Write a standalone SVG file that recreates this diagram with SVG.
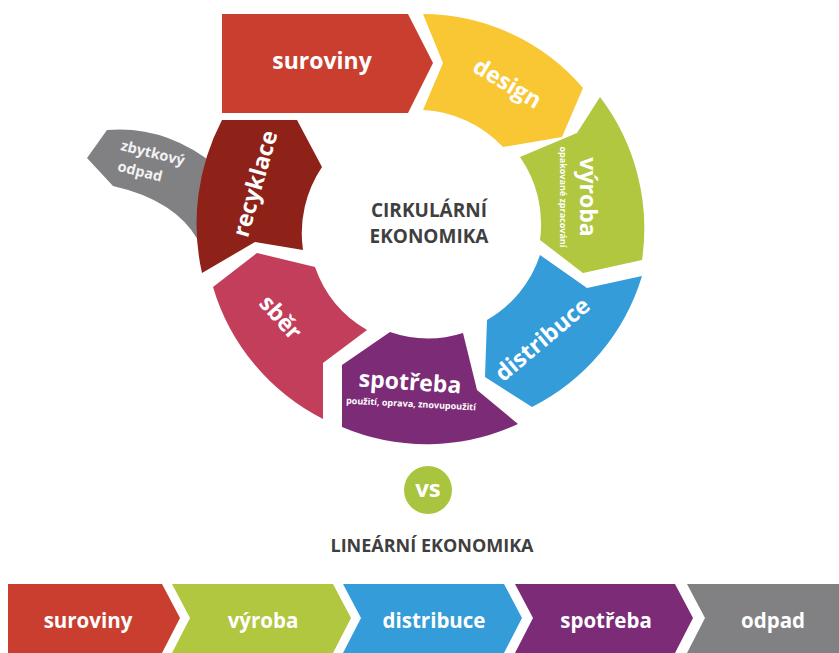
<svg xmlns="http://www.w3.org/2000/svg" width="839" height="653" viewBox="0 0 839 653">
<style>
text{font-family:"Open Sans","Liberation Sans",sans-serif;font-weight:700;text-anchor:middle}
.w{fill:#ffffff}
.big{font-size:23px}
.bar{font-size:20.5px}
.dark{fill:#3f3f3f}
.red{fill:#c93e2f}.yel{fill:#f9c733}.grn{fill:#b0c73f}.blu{fill:#349cd9}.pur{fill:#7c2b77}.pnk{fill:#c23e5a}.drk{fill:#8e2219}.gry{fill:#818184}
</style>
<rect width="839" height="653" fill="#ffffff"/>
<g id="connectors"/>
<g id="zbytkovy-odpad">
<path class="gry" d="M107,130 Q165,125 215,165 L215,240 L198,240 Q175,200 113,186 L87,158 Z"/>
<g transform="translate(120,150) rotate(14)">
<text x="0" y="0" style="font-size:14.5px;text-anchor:start;fill:#f2f2f2">zbytkový</text>
<text x="2" y="21" style="font-size:14.5px;text-anchor:start;fill:#f2f2f2">odpad</text>
</g>
</g>
<g id="suroviny">
<path class="red" d="M222,14 H408 L433,63 L408,113 H222 Z"/>
<text class="w big" x="322" y="69">suroviny</text>
</g>
<g id="design">
<path class="yel" d="M423,14 A212,212 0 0 1 583,88 L562,137 L503,147 A117,117 0 0 0 423,110 L443,63 Z"/>
<text class="w big" transform="translate(507,84) rotate(31)" x="0" y="7">design</text>
</g>
<g id="vyroba">
<path class="grn" d="M600,97 A217,217 0 0 1 642,260 L583,273 L540,240 A117,117 0 0 0 520,157 L577,133 Z"/>
<text class="w big" transform="translate(586,197) rotate(90)" x="0" y="6">výroba</text>
<text class="w" style="font-size:9px" transform="translate(563,197) rotate(90)" x="0" y="3">opakované zpracování</text>
</g>
<g id="distribuce">
<path class="blu" d="M642,276 A217,217 0 0 1 532,407 L485,377 L487,320 A117,117 0 0 0 540,255 L587,288 Z"/>
<text class="w big" transform="translate(543,340) rotate(-40)" x="0" y="7">distribuce</text>
</g>
<g id="spotreba">
<path class="pur" d="M518,424 A217,217 0 0 1 342,427 L342,365 L390,332 A117,117 0 0 0 463,333 L477,390 Z"/>
<text class="w big" transform="translate(410,383) rotate(4)" x="0" y="7">spotřeba</text>
<text class="w" style="font-size:9px" transform="translate(411,404) rotate(3)" x="0" y="3">použití, oprava, znovupoužití</text>
</g>
<g id="sber">
<path class="pnk" d="M323,419 A217,217 0 0 1 213,287 L257,253 L315,267 A117,117 0 0 0 367,330 L323,363 Z"/>
<text class="w big" transform="translate(280,318) rotate(48)" x="0" y="7">sběr</text>
</g>
<g id="recyklace">
<path class="drk" d="M202,273 A224,224 0 0 1 222,120 L297,120 L322,167 A118,118 0 0 0 303,250 L255,242 Z"/>
<text class="w big" transform="translate(256,184) rotate(-74)" x="0" y="7">recyklace</text>
</g>
<g id="cirkularni-ekonomika">
<text class="dark" style="font-size:19px" x="429" y="217">CIRKULÁRNÍ</text>
<text class="dark" style="font-size:19px" x="429" y="243">EKONOMIKA</text>
</g>
<g id="vs">
<circle cx="428" cy="490" r="24" fill="#a9c43e"/>
<text class="w" style="font-size:24px" x="428" y="497">vs</text>
</g>
<g id="linearni-ekonomika">
<text class="dark" style="font-size:18px" x="432" y="552">LINEÁRNÍ EKONOMIKA</text>
</g>
<g id="lin-suroviny">
<path class="red" d="M8,584 H162 L180,618 L162,653 H8 Z"/>
<text class="w bar" x="88" y="628">suroviny</text>
</g>
<g id="lin-vyroba">
<path class="grn" d="M172,584 H333 L351,618 L333,653 H172 L190,618 Z"/>
<text class="w bar" x="263" y="628">výroba</text>
</g>
<g id="lin-distribuce">
<path class="blu" d="M343,584 H504 L522,618 L504,653 H343 L361,618 Z"/>
<text class="w bar" x="434" y="628">distribuce</text>
</g>
<g id="lin-spotreba">
<path class="pur" d="M515,584 H675 L693,618 L675,653 H515 L533,618 Z"/>
<text class="w bar" x="606" y="628">spotřeba</text>
</g>
<g id="lin-odpad">
<path class="gry" d="M687,584 H839 V653 H687 L705,618 Z"/>
<text class="w bar" x="773" y="628">odpad</text>
</g>
</svg>
